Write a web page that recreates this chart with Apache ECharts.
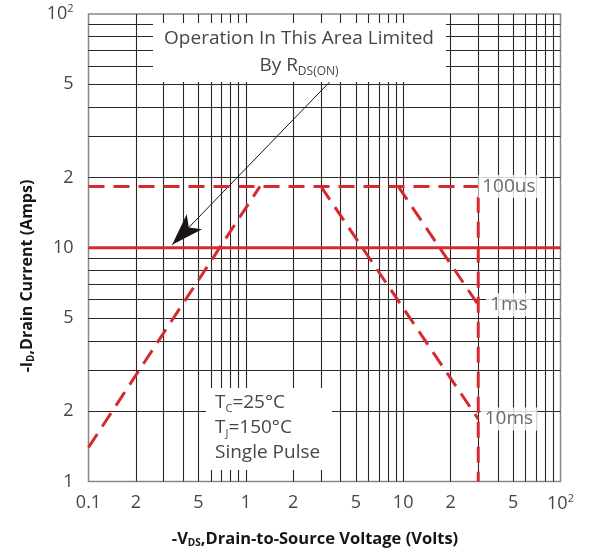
<!DOCTYPE html>
<html>
<head>
<meta charset="utf-8">
<script src="https://cdn.jsdelivr.net/npm/echarts@6/dist/echarts.min.js"></script>
<style>
html,body{margin:0;padding:0;background:#fff;}
#chart{width:599px;height:553px;}
</style>
</head>
<body>
<div id="chart"></div>
<script>
// ---- data ----
const xTickValues = [0.1, 0.2, 0.5, 1, 2, 5, 10, 20, 50, 100];
const xTickLabels = ['0.1', '2', '5', '1', '2', '5', '10', '2', '5', '10{sup|2}'];
const yTickValues = [1, 2, 5, 10, 20, 50, 100];
const yTickLabels = ['1', '2', '5', '10', '2', '5', '10{sup|2}'];
const xGridValues = [0.2, 0.3, 0.4, 0.5, 0.6, 0.7, 0.8, 0.9, 1, 2, 3, 4, 5, 6, 7, 8, 9, 10, 20, 30, 40, 50, 60, 70, 80, 90];
const yGridValues = [2, 3, 4, 5, 6, 7, 8, 9, 10, 20, 30, 40, 50, 60, 70, 80, 90];

const rdsLimit = [[0.1, 10], [100, 10]];
const pulse100us = [[0.1, 18.3], [30, 18.3], [30, 1]];
const riseEdge = [[0.1, 1.4], [1.23, 18.3]];
const pulse1ms = [[9.3, 18.3], [30, 5.7]];
const pulse10ms = [[3, 18.3], [30, 1.85]];
const pulseLabels = ['100us', '1ms', '10ms'];
const pulseLabelPos = [[47, 18.3], [47, 5.7], [47, 1.85]];
const arrowFrom = [3.43, 51.4];
const arrowTo = [0.34, 10.3];

// ---- styles ----
const RED = '#d52a2f';
const GRIDC = '#2e2626';
const TXT = '#4a4444';
const FONT = 'Open Sans';

function lookup(values, labels, v) {
  let best = 0, bd = Infinity;
  values.forEach((t, i) => { const d = Math.abs(Math.log10(t) - Math.log10(v)); if (d < bd) { bd = d; best = i; } });
  return labels[best];
}
const supRich = { sup: { fontSize: 11, fontFamily: FONT, color: TXT, padding: [0, 0, 10, 0] } };

const chart = echarts.init(document.getElementById('chart'), null, { renderer: 'canvas' });
const dashed = { type: [16, 9], width: 3, color: RED, cap: 'butt' };

const option = {
  animation: false,
  grid: { left: 88.5, top: 14, width: 472, height: 467.5, show: true, borderColor: '#8c8585', borderWidth: 1.5, backgroundColor: 'transparent' },
  xAxis: {
    type: 'log', logBase: 10, min: 0.1, max: 100,
    axisLine: { show: false }, axisTick: { show: false }, splitLine: { show: false }, minorSplitLine: { show: false },
    axisLabel: {
      customValues: xTickValues, margin: 12, fontSize: 18, fontFamily: FONT, color: TXT,
      formatter: v => lookup(xTickValues, xTickLabels, v), rich: supRich
    }
  },
  yAxis: {
    type: 'log', logBase: 10, min: 1, max: 100,
    axisLine: { show: false }, axisTick: { show: false }, splitLine: { show: false },
    axisLabel: {
      customValues: yTickValues, margin: 15, fontSize: 18, fontFamily: FONT, color: TXT,
      formatter: v => lookup(yTickValues, yTickLabels, v), rich: supRich
    }
  },
  series: [
    {
      name: 'gridX', type: 'line', data: [], z: 1, silent: true,
      markLine: {
        silent: true, symbol: ['none', 'none'], label: { show: false }, animation: false,
        lineStyle: { type: 'solid', color: GRIDC, width: 1.1 },
        emphasis: { disabled: true },
        data: xGridValues.map(v => ({ xAxis: v })).concat(yGridValues.map(v => ({ yAxis: v })))
      }
    },
    { name: 'RDS(on) limit', type: 'line', data: rdsLimit, z: 100, symbol: 'none', lineStyle: { width: 3, color: RED } },
    { name: '100us', type: 'line', data: pulse100us, z: 100, symbol: 'none', lineStyle: dashed },
    { name: 'rise', type: 'line', data: riseEdge, z: 100, symbol: 'none', lineStyle: dashed },
    { name: '1ms', type: 'line', data: pulse1ms, z: 100, symbol: 'none', lineStyle: dashed },
    { name: '10ms', type: 'line', data: pulse10ms, z: 100, symbol: 'none', lineStyle: dashed },
    {
      name: 'arrow', type: 'line', data: [], z: 110, silent: true,
      markLine: {
        silent: true, symbol: ['none', 'arrow'], symbolSize: [16, 32], label: { show: false }, animation: false,
        lineStyle: { type: 'solid', color: '#1a1414', width: 1 },
        itemStyle: { color: '#1a1414' },
        emphasis: { disabled: true },
        data: [[{ coord: arrowFrom }, { coord: arrowTo }]]
      }
    },
    {
      name: 'pulseLabels', type: 'scatter', z: 120, silent: true, symbolSize: 1,
      itemStyle: { color: 'rgba(0,0,0,0)' },
      data: pulseLabelPos.map((p, i) => ({ value: p, name: pulseLabels[i] })),
      label: {
        show: true, position: 'inside', formatter: p => p.name, fontSize: 19, fontFamily: FONT, color: TXT,
        backgroundColor: '#fff', padding: [2, 4, 2, 4]
      }
    }
  ],
  graphic: [
    { type: 'rect', z: 50, shape: { x: 153, y: 23, width: 293, height: 59 }, style: { fill: '#fff' } },
    { type: 'rect', z: 50, shape: { x: 206, y: 388, width: 126, height: 82 }, style: { fill: '#fff' } },
    { type: 'text', z: 60, x: 299, y: 39, style: { text: 'Operation In This Area Limited', fontSize: 19, fontFamily: FONT, fill: TXT, align: 'center', verticalAlign: 'middle' } },
    { type: 'text', z: 60, x: 299, y: 66, style: { text: 'By R{sub|DS(ON)}', fontSize: 19, fontFamily: FONT, fill: TXT, align: 'center', verticalAlign: 'middle',
      rich: { sub: { fontSize: 12, fontFamily: FONT, fill: TXT, padding: [12, 0, 0, 0] } } } },
    { type: 'text', z: 60, x: 215, y: 403, style: { text: 'T{sub|C}=25°C', fontSize: 19, fontFamily: FONT, fill: TXT, align: 'left', verticalAlign: 'middle',
      rich: { sub: { fontSize: 11, fontFamily: FONT, fill: TXT, padding: [12, 0, 0, 0] } } } },
    { type: 'text', z: 60, x: 215, y: 428, style: { text: 'T{sub|J}=150°C', fontSize: 19, fontFamily: FONT, fill: TXT, align: 'left', verticalAlign: 'middle',
      rich: { sub: { fontSize: 11, fontFamily: FONT, fill: TXT, padding: [12, 0, 0, 0] } } } },
    { type: 'text', z: 60, x: 215, y: 453, style: { text: 'Single Pulse', fontSize: 19, fontFamily: FONT, fill: TXT, align: 'left', verticalAlign: 'middle' } },
    { type: 'text', z: 60, x: 27, y: 276, rotation: Math.PI / 2, style: { text: '-I{sub|D},Drain Current (Amps)', fontSize: 16, fontWeight: 'bold', fontFamily: FONT, fill: '#1a1414', align: 'center', verticalAlign: 'middle',
      rich: { sub: { fontSize: 10, fontWeight: 'bold', fontFamily: FONT, fill: '#1a1414', padding: [8, 0, 0, 0] } } } },
    { type: 'text', z: 60, x: 315, y: 539, style: { text: '-V{sub|DS},Drain-to-Source Voltage (Volts)', fontSize: 16.5, fontWeight: 'bold', fontFamily: FONT, fill: '#1a1414', align: 'center', verticalAlign: 'middle',
      rich: { sub: { fontSize: 10, fontWeight: 'bold', fontFamily: FONT, fill: '#1a1414', padding: [8, 0, 0, 0] } } } }
  ]
};
chart.setOption(option);
</script>
</body>
</html>
